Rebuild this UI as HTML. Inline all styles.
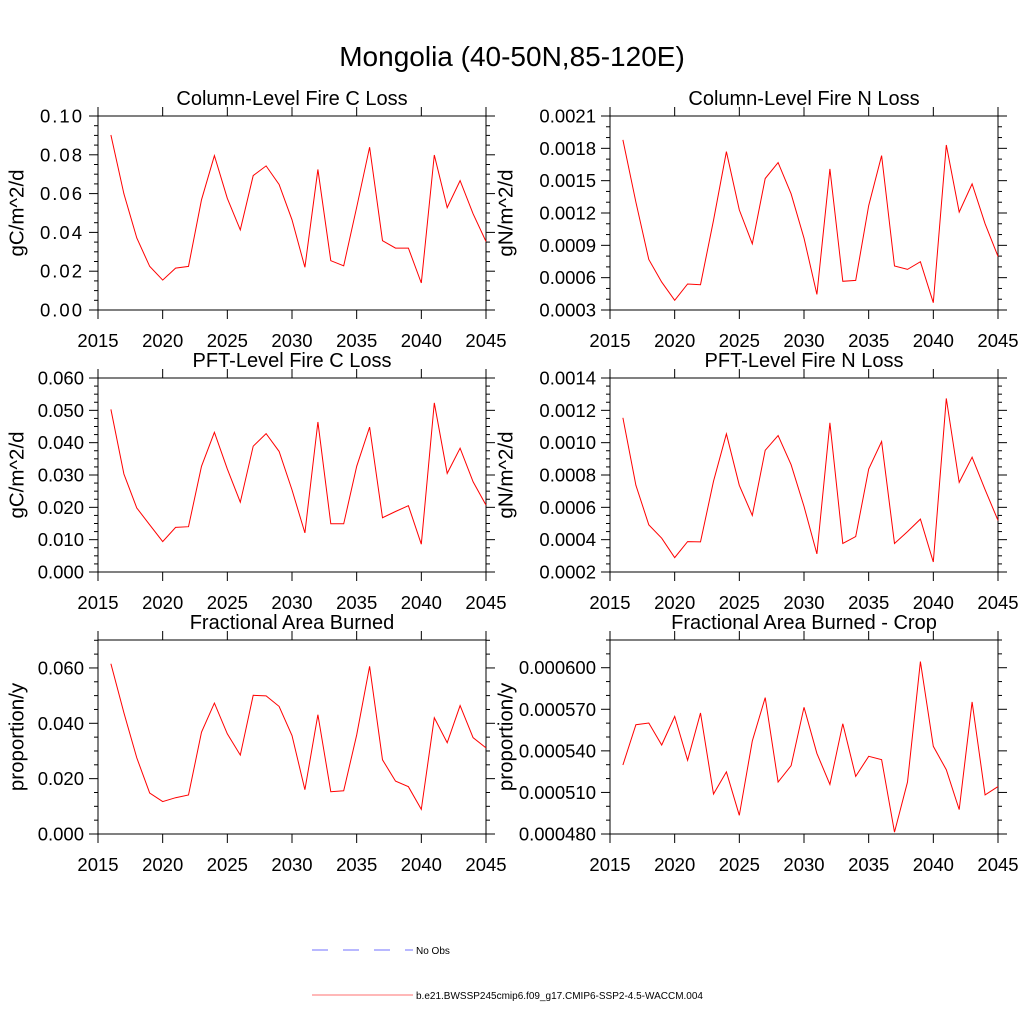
<!DOCTYPE html>
<html><head><meta charset="utf-8"><style>
html,body{margin:0;padding:0;background:#fff;}
svg{display:block;font-family:"Liberation Sans",sans-serif;}
</style></head><body>
<svg id="chart" width="1024" height="1024" viewBox="0 0 1024 1024" xmlns="http://www.w3.org/2000/svg">
<rect x="0" y="0" width="1024" height="1024" fill="#fff"/>
<text x="512" y="66" font-size="28" text-anchor="middle">Mongolia (40-50N,85-120E)</text>
<g>
<line x1="312" y1="950" x2="413" y2="950" stroke="#7070ff" stroke-width="1" stroke-dasharray="16,15"/>
<text x="416" y="954" font-size="10">No Obs</text>
<line x1="312" y1="995" x2="413" y2="995" stroke="#ff7070" stroke-width="1"/>
<text x="416" y="999" font-size="10">b.e21.BWSSP245cmip6.f09_g17.CMIP6-SSP2-4.5-WACCM.004</text>
</g>
</svg>
<script>
const years = [2016,2017,2018,2019,2020,2021,2022,2023,2024,2025,2026,2027,2028,2029,2030,2031,2032,2033,2034,2035,2036,2037,2038,2039,2040,2041,2042,2043,2044,2045];
const colFireC = [0.0902,0.0599,0.0371,0.0225,0.0154,0.0216,0.0225,0.0568,0.0796,0.0576,0.0413,0.0693,0.0743,0.0647,0.0465,0.0220,0.0724,0.0254,0.0228,0.0530,0.0839,0.0357,0.0319,0.0319,0.0139,0.0799,0.0528,0.0667,0.0496,0.0353];
const colFireN = [0.001878,0.001300,0.000769,0.000559,0.000390,0.000541,0.000535,0.001131,0.001770,0.001229,0.000914,0.001520,0.001668,0.001378,0.000967,0.000445,0.001609,0.000566,0.000575,0.001269,0.001733,0.000708,0.000677,0.000748,0.000368,0.001831,0.001208,0.001470,0.001100,0.000797];
const pftFireC = [0.0503,0.0303,0.0198,0.0146,0.0094,0.0138,0.0140,0.0327,0.0432,0.0319,0.0216,0.0389,0.0428,0.0373,0.0254,0.0121,0.0464,0.0149,0.0149,0.0327,0.0448,0.0168,0.0187,0.0205,0.0086,0.0523,0.0305,0.0383,0.0279,0.0207];
const pftFireN = [0.001154,0.000736,0.000492,0.000409,0.000289,0.000388,0.000386,0.000761,0.001054,0.000736,0.000550,0.000953,0.001044,0.000864,0.000606,0.000312,0.001123,0.000376,0.000419,0.000837,0.001007,0.000376,0.000450,0.000527,0.000262,0.001274,0.000754,0.000910,0.000709,0.000519];
const areaBurned = [0.0615,0.0438,0.0275,0.0148,0.0117,0.0131,0.0141,0.0368,0.0473,0.0362,0.0285,0.0501,0.0499,0.0461,0.0356,0.0160,0.0431,0.0153,0.0156,0.0358,0.0606,0.0268,0.0191,0.0171,0.0089,0.0420,0.0330,0.0464,0.0348,0.0311];
const areaBurnedCrop = [0.0005298,0.0005589,0.0005601,0.0005442,0.0005649,0.0005332,0.0005673,0.0005089,0.0005248,0.0004935,0.0005471,0.0005784,0.0005175,0.0005293,0.0005714,0.0005382,0.0005158,0.0005596,0.0005216,0.0005361,0.0005337,0.0004814,0.0005175,0.0006044,0.0005433,0.0005264,0.0004976,0.0005753,0.0005082,0.0005142];
const xTicks = [2015,2020,2025,2030,2035,2040,2045];
const yTicks1 = ["0.00","0.02","0.04","0.06","0.08","0.10"];
const yTicks2 = ["0.0003","0.0006","0.0009","0.0012","0.0015","0.0018","0.0021"];
const yTicks3 = ["0.000","0.010","0.020","0.030","0.040","0.050","0.060"];
const yTicks4 = ["0.0002","0.0004","0.0006","0.0008","0.0010","0.0012","0.0014"];
const yTicks5 = ["0.000","0.020","0.040","0.060"];
const yTicks6 = ["0.000480","0.000510","0.000540","0.000570","0.000600"];

const NS='http://www.w3.org/2000/svg';
const svg=document.getElementById('chart');
function mk(tag,attrs,parent){const e=document.createElementNS(NS,tag);for(const k in attrs)e.setAttribute(k,attrs[k]);(parent||svg).appendChild(e);return e;}

const panels=[
 {name:'col-fire-c',title:'Column-Level Fire C Loss',ylab:'gC/m^2/d',data:colFireC,ticks:yTicks1,ymin:0,ymax:0.1,minor:4,x:98,y:116,titleX:17},
 {name:'col-fire-n',title:'Column-Level Fire N Loss',ylab:'gN/m^2/d',data:colFireN,ticks:yTicks2,ymin:0.0003,ymax:0.0021,minor:3,x:610,y:116,titleX:506},
 {name:'pft-fire-c',title:'PFT-Level Fire C Loss',ylab:'gC/m^2/d',data:pftFireC,ticks:yTicks3,ymin:0,ymax:0.06,minor:4,x:98,y:378,titleX:17},
 {name:'pft-fire-n',title:'PFT-Level Fire N Loss',ylab:'gN/m^2/d',data:pftFireN,ticks:yTicks4,ymin:0.0002,ymax:0.0014,minor:4,x:610,y:378,titleX:506},
 {name:'area-burned',title:'Fractional Area Burned',ylab:'proportion/y',data:areaBurned,ticks:yTicks5,ymin:0,ymax:0.0701,minor:4,x:98,y:640,titleX:17},
 {name:'area-burned-crop',title:'Fractional Area Burned - Crop',ylab:'proportion/y',data:areaBurnedCrop,ticks:yTicks6,ymin:0.00048,ymax:0.000620,minor:3,x:610,y:640,titleX:506}
];
const W=388,H=194;
panels.forEach(p=>{
 const g=mk('g',{});
 
 
 const xs=v=>p.x+(v-2015)/30*W;
 const ys=v=>p.y+H-(v-p.ymin)/(p.ymax-p.ymin)*H;
 const tk=mk('g',{stroke:'#000','stroke-width':1},g);
 
 
 xTicks.forEach(t=>{const X=xs(t);
  mk('line',{x1:X,x2:X,y1:p.y+H,y2:p.y+H+9},tk);
  mk('line',{x1:X,x2:X,y1:p.y,y2:p.y-9},tk);
  const lt=mk('text',{x:X,y:p.y+H+37,'font-size':18.5,'text-anchor':'middle',stroke:'none',fill:'#000'},g);
  
  
  lt.textContent=t;});
 const step=(parseFloat(p.ticks[1])-parseFloat(p.ticks[0]));
 p.ticks.forEach((t,i)=>{const v=parseFloat(t);const Y=ys(v);
  mk('line',{x1:p.x-9,x2:p.x,y1:Y,y2:Y},tk);
  mk('line',{x1:p.x+W,x2:p.x+W+9,y1:Y,y2:Y},tk);
  const lt=mk('text',{x:p.x-14,y:Y+6.5,'font-size':18.5,'text-anchor':'end',fill:'#000'},g);
  
  
  if(t.length<=4) lt.setAttribute('letter-spacing','2');
  lt.textContent=t;
  for(let k=1;k<p.minor;k++){const mv=v+step*k/p.minor;if(mv>p.ymax+1e-12)break;const MY=ys(mv);
   mk('line',{x1:p.x-4,x2:p.x,y1:MY,y2:MY},tk);
   mk('line',{x1:p.x+W,x2:p.x+W+4,y1:MY,y2:MY},tk);}
 });
 const box=mk('rect',{x:p.x,y:p.y,width:W,height:H,fill:'none',stroke:'#000','stroke-width':1},g);
 
 
 const pts=years.map((y,i)=>xs(y).toFixed(1)+','+ys(p.data[i]).toFixed(1)).join(' ');
 const ln=mk('polyline',{points:pts,fill:'none',stroke:'#ff0000','stroke-width':1},g);
 
 
 const tt=mk('text',{x:p.x+W/2,y:p.y-11,'font-size':20,'text-anchor':'middle'},g);
 
 
 tt.textContent=p.title;
 const cy=p.y+H/2;
 const yl=mk('text',{x:p.titleX,y:cy,'font-size':20.5,'text-anchor':'middle',transform:'rotate(-90 '+p.titleX+' '+cy+')','dominant-baseline':'central'},g);
 
 
 yl.textContent=p.ylab;
});
</script>
</body></html>
